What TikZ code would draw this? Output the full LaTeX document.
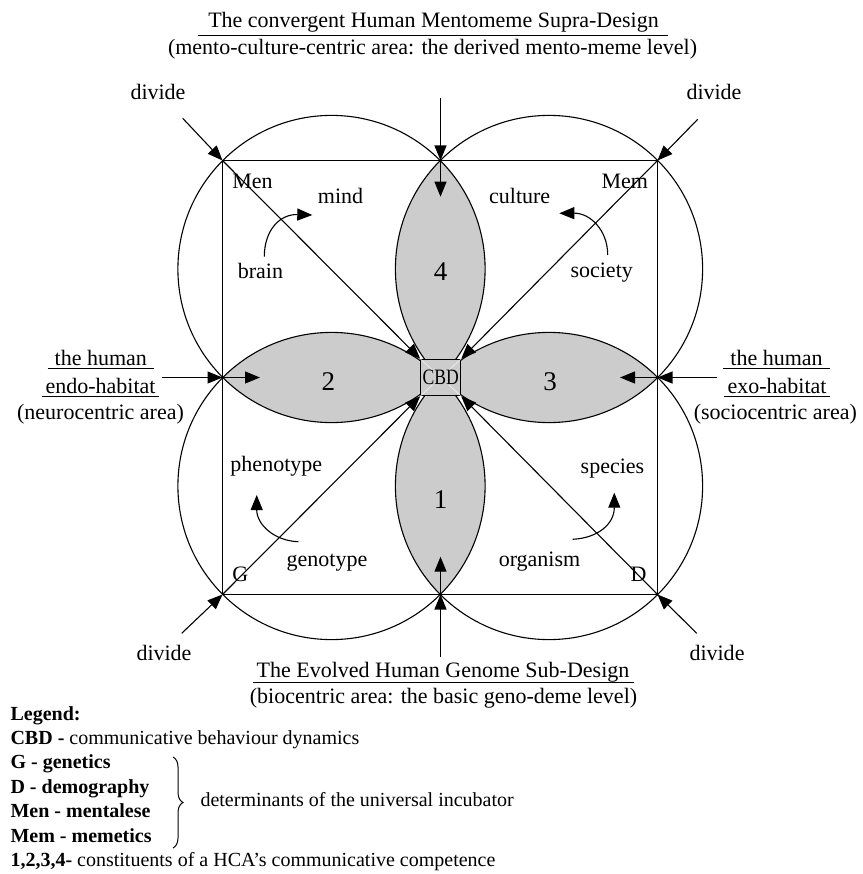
\documentclass[tikz,border=0pt]{standalone}
\usepackage{fontspec}
\setmainfont{Liberation Serif}
\usetikzlibrary{arrows.meta,decorations.pathreplacing}
\definecolor{lensgray}{RGB}{204,204,204}
\begin{document}
\begin{tikzpicture}[x=1pt,y=-1pt,
  line width=1.1pt,
  lbl/.style={inner sep=0pt, anchor=base, font=\fontsize{22}{26}\selectfont},
  lblw/.style={lbl, anchor=base west},
  num/.style={inner sep=0pt, anchor=base, font=\fontsize{27}{32}\selectfont},
  leg/.style={inner sep=0pt, anchor=base west, font=\fontsize{20}{24}\selectfont},
  arr/.style={-{Triangle[length=15pt,width=12pt]}},
  ul/.style={line width=1pt},
]
\useasboundingbox (0,0) rectangle (862,874);
% geometry
\coordinate (O) at (440.5,377.5);
\coordinate (TL) at (222.5,160.5);
\coordinate (TR) at (657.5,160.5);
\coordinate (BL) at (222.5,594.5);
\coordinate (BR) at (657.5,594.5);
\coordinate (T) at (440.5,160.5);
\coordinate (B) at (440.5,594.5);
\coordinate (L) at (222.5,377.5);
\coordinate (R) at (657.5,377.5);
\coordinate (cTL) at (331.5,269);
\coordinate (cTR) at (549,269);
\coordinate (cBL) at (331.5,486);
\coordinate (cBR) at (549,486);
\def\rad{153.6pt}
% lenses
\begin{scope}\clip (cTL) circle (\rad); \fill[lensgray] (cTR) circle (\rad); \end{scope}
\begin{scope}\clip (cTL) circle (\rad); \fill[lensgray] (cBL) circle (\rad); \end{scope}
\begin{scope}\clip (cBR) circle (\rad); \fill[lensgray] (cTR) circle (\rad); \end{scope}
\begin{scope}\clip (cBR) circle (\rad); \fill[lensgray] (cBL) circle (\rad); \end{scope}
% square and circles
\draw (TL) rectangle (BR);
\draw (cTL) circle (\rad);
\draw (cTR) circle (\rad);
\draw (cBL) circle (\rad);
\draw (cBR) circle (\rad);
% CBD box
\node[draw, fill=lensgray, minimum width=40pt, minimum height=36.4pt, inner sep=0pt,
      font=\fontsize{22}{26}\selectfont] (cbd) at (440.7,377.5) {\scalebox{0.8}[1]{CBD}};
\draw[white, opacity=0.7, line width=0.7pt, shorten >=11pt] (cbd.north west) -- (cbd.center);
\draw[white, opacity=0.7, line width=0.7pt, shorten >=11pt] (cbd.north east) -- (cbd.center);
\draw[white, opacity=0.7, line width=0.7pt, shorten >=11pt] (cbd.south west) -- (cbd.center);
\draw[white, opacity=0.7, line width=0.7pt, shorten >=11pt] (cbd.south east) -- (cbd.center);
% diagonals
\draw[arr] (TL) -- (cbd.north west);
\draw[arr] (TR) -- (cbd.north east);
\draw[arr] (BL) -- (cbd.south west);
\draw[arr] (BR) -- (cbd.south east);
% side arrows
\coordinate (topS) at (440.5,98.3);
\coordinate (topI) at (440.5,196.7);
\coordinate (botS) at (440.5,656.7);
\coordinate (botI) at (440.5,556.7);
\coordinate (leftS) at (162.3,377.5);
\coordinate (leftI) at (260,377.5);
\coordinate (rightS) at (716.7,377.5);
\coordinate (rightI) at (620,377.5);
\draw[arr] (topS) -- (T);
\draw[arr] (T) -- (topI);
\draw[arr] (botS) -- (B);
\draw[arr] (B) -- (botI);
\draw[arr] (leftS) -- (L);
\draw[arr] (L) -- (leftI);
\draw[arr] (rightS) -- (R);
\draw[arr] (R) -- (rightI);
% divide arrows
\coordinate (dTLs) at (182.7,118.3);
\coordinate (dTRs) at (697.7,119.3);
\coordinate (dBLs) at (181.7,633.3);
\coordinate (dBRs) at (696.7,633.3);
\draw[arr] (dTLs) -- (TL);
\draw[arr] (dTRs) -- (TR);
\draw[arr] (dBLs) -- (BL);
\draw[arr] (dBRs) -- (BR);
% curved arrows
\coordinate (c1s) at (264.3,256.7); \coordinate (c1e) at (312.3,215);
\coordinate (c2s) at (607.7,255);   \coordinate (c2e) at (559.3,213.3);
\coordinate (c3s) at (298.3,541.7); \coordinate (c3e) at (256.7,495);
\coordinate (c4s) at (572.7,539.3); \coordinate (c4e) at (614.3,492.7);
\draw[arr] (c1s) .. controls (264.3,230) and (280,214) .. (c1e);
\draw[arr] (c2s) .. controls (607.7,230) and (590,213) .. (c2e);
\draw[arr] (c3s) .. controls (275,541) and (256.7,525) .. (c3e);
\draw[arr] (c4s) .. controls (598,538) and (614.3,524) .. (c4e);
% titles
\node[lbl] (title1) at (433.5,28) {The convergent Human Mentomeme Supra-Design};
\draw[ul] ([xshift=-10pt,yshift=-7.5pt]title1.base west) -- ([xshift=9pt,yshift=-7.5pt]title1.base east);
\node[lbl] (title2) at (432.5,55) {(mento-culture-centric area: the derived mento-meme level)};
\node[lbl] (btitle1) at (443,677) {The Evolved Human Genome Sub-Design};
\draw[ul] ([xshift=-3pt,yshift=-5.5pt]btitle1.base west) -- ([xshift=4pt,yshift=-5.5pt]btitle1.base east);
\node[lbl] (btitle2) at (443.5,703) {(biocentric area: the basic geno-deme level)};
% divide labels
\node[lbl] (dvTL) at (158,100) {divide};
\node[lbl] (dvTR) at (714,100) {divide};
\node[lbl] (dvBL) at (164,660) {divide};
\node[lbl] (dvBR) at (717,660) {divide};
% side labels
\node[lbl] (lh1) at (100.8,365.5) {the human};
\draw[ul] ([xshift=-6.5pt,yshift=-3pt]lh1.base west) -- ([xshift=6.5pt,yshift=-3pt]lh1.base east);
\node[lbl] (lh2) at (100.5,393) {endo-habitat};
\draw[ul] ([xshift=-3pt,yshift=-3pt]lh2.base west) -- ([xshift=3pt,yshift=-3pt]lh2.base east);
\node[lbl] (lh3) at (100.5,419) {(neurocentric area)};
\node[lbl] (rh1) at (776.5,365.5) {the human};
\draw[ul] ([xshift=-6.5pt,yshift=-3pt]rh1.base west) -- ([xshift=6.5pt,yshift=-3pt]rh1.base east);
\node[lbl] (rh2) at (777,393) {exo-habitat};
\draw[ul] ([xshift=-3pt,yshift=-3pt]rh2.base west) -- ([xshift=3pt,yshift=-3pt]rh2.base east);
\node[lbl] (rh3) at (775.3,419) {(sociocentric area)};
% inner labels
\node[lblw] (men) at (231.7,188.3) {Men};
\node[lblw] (mem) at (601,188.3) {Mem};
\node[lblw] (gg) at (231.7,581.7) {G};
\node[lblw] (dd) at (630,581.7) {D};
\node[lbl] (mind) at (340.5,204) {mind};
\node[lbl] (brain) at (260.5,278) {brain};
\node[lbl] (culture) at (519.7,204) {culture};
\node[lbl] (society) at (601.7,277) {society};
\node[lbl] (pheno) at (276.3,471.7) {phenotype};
\node[lbl] (geno) at (327,566.7) {genotype};
\node[lbl] (species) at (612.5,473.3) {species};
\node[lbl] (organism) at (539.5,566.7) {organism};
\node[num] (n4) at (440.5,280) {4};
\node[num] (n2) at (328.3,390) {2};
\node[num] (n3) at (550,390) {3};
\node[num] (n1) at (440.5,508.3) {1};
% legend
\node[leg] (lg0) at (10,720) {\textbf{Legend:}};
\node[leg] (lg1) at (10,744) {\textbf{CBD -} communicative behaviour dynamics};
\node[leg] (lg2) at (10,768) {\textbf{G - genetics}};
\node[leg] (lg3) at (10,793) {\textbf{D - demography}};
\node[leg] (lg4) at (10,817) {\textbf{Men - mentalese}};
\node[leg] (lg5) at (10,842) {\textbf{Mem - memetics}};
\node[leg] (lg6) at (10,866) {\textbf{1,2,3,4-} constituents of a HCA's communicative competence};
\coordinate (brT) at (173,757);
\coordinate (brB) at (173,848);
\draw[decorate, decoration={brace, amplitude=10pt}, line width=1pt] (brT) -- (brB);
\node[leg] (det) at (200,806.7) {determinants of the universal incubator};
\end{tikzpicture}
\end{document}
